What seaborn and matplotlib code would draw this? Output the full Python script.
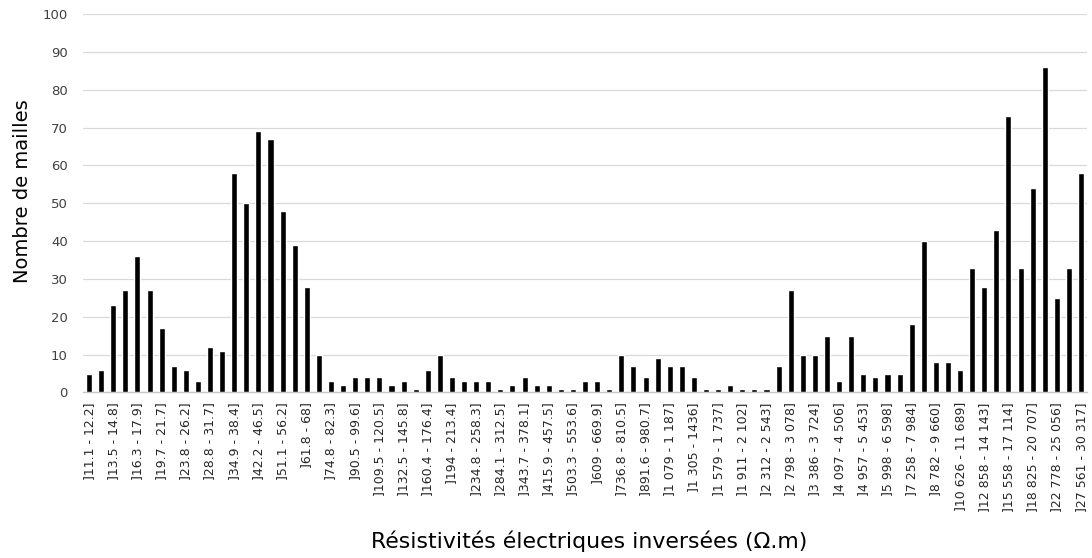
import matplotlib
matplotlib.use("Agg")
import matplotlib.pyplot as plt
import seaborn as sns
import pandas as pd

# Classes de résistivité (bornes)
classes = [
    "]11.1 - 12.2]", "]12.2 - 13.5]", "]13.5 - 14.8]", "]14.8 - 16.3]",
    "]16.3 - 17.9]", "]17.9 - 19.7]", "]19.7 - 21.7]", "]21.7 - 23.8]",
    "]23.8 - 26.2]", "]26.2 - 28.8]", "]28.8 - 31.7]", "]31.7 - 34.9]",
    "]34.9 - 38.4]", "]38.4 - 42.2]", "]42.2 - 46.5]", "]46.5 - 51.1]",
    "]51.1 - 56.2]", "]56.2 - 61.8]", "]61.8 - 68]", "]68 - 74.8]",
    "]74.8 - 82.3]", "]82.3 - 90.5]", "]90.5 - 99.6]", "]99.6 - 109.5]",
    "]109.5 - 120.5]", "]120.5 - 132.5]", "]132.5 - 145.8]", "]145.8 - 160.4]",
    "]160.4 - 176.4]", "]176.4 - 194]", "]194 - 213.4]", "]213.4 - 234.8]",
    "]234.8 - 258.3]", "]258.3 - 284.1]", "]284.1 - 312.5]", "]312.5 - 343.7]",
    "]343.7 - 378.1]", "]378.1 - 415.9]", "]415.9 - 457.5]", "]457.5 - 503.3]",
    "]503.3 - 553.6]", "]553.6 - 609]", "]609 - 669.9]", "]669.9 - 736.8]",
    "]736.8 - 810.5]", "]810.5 - 891.6]", "]891.6 - 980.7]", "]980.7 - 1 079]",
    "]1 079 - 1 187]", "]1 187 - 1 305]", "]1 305 - 1436]", "]1436 - 1 579]",
    "]1 579 - 1 737]", "]1 737 - 1 911]", "]1 911 - 2 102]", "]2 102 - 2 312]",
    "]2 312 - 2 543]", "]2 543 - 2 798]", "]2 798 - 3 078]", "]3 078 - 3 386]",
    "]3 386 - 3 724]", "]3 724 - 4 097]", "]4 097 - 4 506]", "]4 506 - 4 957]",
    "]4 957 - 5 453]", "]5 453 - 5 998]", "]5 998 - 6 598]", "]6 598 - 7 258]",
    "]7 258 - 7 984]", "]7 984 - 8 782]", "]8 782 - 9 660]", "]9 660 - 10 626]",
    "]10 626 - 11 689]", "]11 689 - 12 858]", "]12 858 - 14 143]", "]14 143 - 15 558]",
    "]15 558 - 17 114]", "]17 114 - 18 825]", "]18 825 - 20 707]", "]20 707 - 22 778]",
    "]22 778 - 25 056]", "]25 056 - 27 561]", "]27 561 - 30 317]",
]

# Nombre de mailles par classe
mailles = [
    5, 6, 23, 27, 36, 27, 17, 7, 6, 3,
    12, 11, 58, 50, 69, 67, 48, 39, 28, 10,
    3, 2, 4, 4, 4, 2, 3, 1, 6, 10,
    4, 3, 3, 3, 1, 2, 4, 2, 2, 1,
    1, 3, 3, 1, 10, 7, 4, 9, 7, 7,
    4, 1, 1, 2, 1, 1, 1, 7, 27, 10,
    10, 15, 3, 15, 5, 4, 5, 5, 18, 40,
    8, 8, 6, 33, 28, 43, 73, 33, 54, 86,
    25, 33, 58,
]

y_ticks = list(range(0, 101, 10))

df = pd.DataFrame({"classe": classes, "mailles": mailles})

sns.set_style("white")
plt.rcParams["font.family"] = ["DejaVu Sans"]

fig = plt.figure(figsize=(10.92, 5.58), dpi=100)
ax = fig.add_axes([0.076, 0.2966, 0.9195, 0.6784])

sns.barplot(data=df, x="classe", y="mailles", color="black", saturation=1,
            width=0.5, ax=ax, zorder=3)

ax.set_xlim(-0.5, len(classes) - 0.5)
ax.set_ylim(0, 100)
ax.set_yticks(y_ticks)
ax.set_xticks(range(0, len(classes), 2))
ax.set_xticklabels(classes[::2], rotation=90, fontsize=9, color="#262626")
ax.tick_params(axis="y", labelsize=9.5, labelcolor="#404040", length=0, pad=11)
ax.tick_params(axis="x", length=0, pad=7)

ax.yaxis.grid(True, color="#d9d9d9", linewidth=0.9, zorder=0)
ax.set_axisbelow(True)
for s in ["top", "right", "left"]:
    ax.spines[s].set_visible(False)
ax.spines["bottom"].set_color("#c8c8c8")
ax.spines["bottom"].set_linewidth(1.0)

ax.set_xlabel("Résistivités électriques inversées (Ω.m)", fontsize=15.8, color="black",
              va="center")
ax.set_ylabel("Nombre de mailles", fontsize=14, color="black", va="center")
ax.xaxis.set_label_coords(0.504, -0.3925)
ax.yaxis.set_label_coords(-0.0607, 0.532)

fig.savefig("out.png", dpi=100)
